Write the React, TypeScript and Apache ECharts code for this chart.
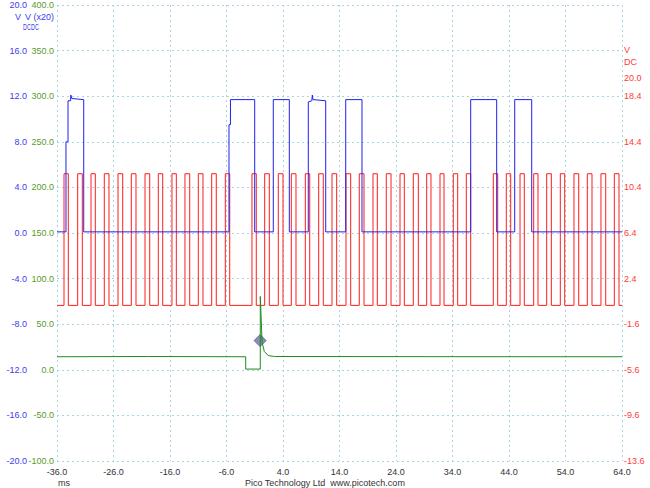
import React, { useEffect, useRef } from "react";
import * as echarts from "echarts";

// Time axis (ms) and tick labels
const timeMin = -36;
const timeMax = 64;
const timeStep = 10;

// Channel B (red, right axis, V DC): pulse rise / fall times in ms
const redRise = [-34.76, -32.34, -29.98, -27.63, -25.2, -22.85, -20.42, -18.07, -15.65, -13.35, -10.99, -8.62, -6.21,
  -1.49, 0.76, 3.17, 5.47, 7.95, 10.32, 12.67, 15.15, 17.5, 19.93, 22.28, 24.71, 27.06, 29.43, 31.79, 34.14, 36.44,
  41.22, 43.52, 45.95, 48.37, 50.67, 53.08, 55.5, 57.86, 60.28, 62.64];
const redFall = [-34.0, -31.52, -29.22, -26.8, -24.37, -22.02, -19.59, -17.29, -14.88, -12.51, -10.16, -7.81, -5.43,
  -0.73, 1.58, 4.0, 6.3, 8.73, 11.13, 13.5, 15.98, 18.34, 20.69, 23.12, 25.47, 27.95, 30.19, 32.5, 34.92, 37.22,
  42.0, 44.3, 46.71, 49.13, 51.49, 53.86, 56.34, 58.69, 61.12, 63.47];
const redHigh = 11.6;
const redLow = 0.05;

// Channel A (blue, left inner axis, V DC): [time ms, volts]
const bluePoints: [number, number][] = [
  [-36, 0.1], [-34.41, 0.1], [-34.41, 8.0], [-34.05, 8.0], [-34.05, 11.6], [-33.6, 11.6], [-33.55, 12.1], [-33.4, 11.8],
  [-31.27, 11.7], [-31.27, 0.1],
  [-5.56, 0.1], [-5.56, 9.5], [-5.3, 9.5], [-5.3, 11.7], [-1.01, 11.7], [-1.01, 0.1],
  [2.28, 0.1], [2.28, 11.7], [5.12, 11.7], [5.12, 0.1],
  [8.48, 0.1], [8.48, 11.5], [9.1, 11.6], [9.19, 12.1], [9.3, 11.7], [11.56, 11.6], [11.56, 0.1],
  [15.1, 0.1], [15.1, 11.7], [17.98, 11.7], [17.98, 0.1],
  [37.22, 0.1], [37.22, 11.7], [41.82, 11.7], [41.82, 0.1],
  [45.01, 0.1], [45.01, 11.7], [48.02, 11.7], [48.02, 0.1],
  [64, 0.1],
];

// Channel C (green, V x20 axis): [time ms, value]
const greenPoints: [number, number][] = [
  [-36, 14.3], [-20, 14.6], [-2.6, 14.3], [-2.6, 0.8], [-0.02, 0.8], [-0.02, 80.4], [0.1, 62], [0.3, 30],
  [0.7, 20], [1.4, 15.5], [2.5, 14.6], [30, 14.4], [64, 14.3],
];

// Trigger marker
const triggerPoint: [number, number] = [-0.05, 32];

// Axis ranges
const blueRange = { min: -20, max: 20, step: 4 };
const greenRange = { min: -100, max: 400, step: 50 };
const redRange = { min: -13.6, max: 26.4, step: 4 };

const BLUE = "#2020f0";
const RED = "#ff1c1c";
const GREEN = "#1f8a1f";
const BLUE_LBL = "#3c3cf0";
const GREEN_LBL = "#5a9a2e";
const RED_LBL = "#ff3a3a";
const GRID = "#a8d4e4";
const FONT = "Liberation Sans, Arial, sans-serif";

export default function App() {
  const ref = useRef<HTMLDivElement>(null);
  useEffect(() => {
    if (!ref.current) return;
    const chart = echarts.init(ref.current, undefined, { renderer: "svg" });
    const xOff = -timeMin;
    const rOff = -redRange.min;

    const redData: number[][] = [[timeMin + xOff, redLow + rOff]];
    for (let i = 0; i < redRise.length; i++) {
      redData.push([redRise[i] + xOff, redLow + rOff]);
      redData.push([redRise[i] + xOff, redHigh + rOff]);
      redData.push([redFall[i] + xOff, redHigh + rOff]);
      redData.push([redFall[i] + xOff, redLow + rOff]);
    }
    redData.push([timeMax + xOff, redLow + rOff]);

    const blueData = bluePoints.map(([t, v]) => [t + xOff, v]);
    const greenData = greenPoints.map(([t, v]) => [t + xOff, v]);

    const lbl = { fontFamily: FONT, fontSize: 9 };

    chart.setOption({
      animation: false,
      backgroundColor: "#ffffff",
      grid: { left: 57, right: 28, top: 5, bottom: 27, containLabel: false },
      xAxis: {
        type: "value",
        min: 0,
        max: timeMax - timeMin,
        interval: timeStep,
        axisLine: { show: false },
        axisTick: { show: false },
        splitLine: { show: true, lineStyle: { color: GRID, type: [2, 3], width: 1 } },
        axisLabel: {
          ...lbl,
          color: "#333333",
          margin: 6,
          formatter: (v: number) => (v - xOff).toFixed(1),
        },
      },
      yAxis: [
        {
          type: "value",
          position: "left",
          offset: 28,
          min: blueRange.min,
          max: blueRange.max,
          interval: blueRange.step,
          axisLine: { show: false },
          axisTick: { show: false },
          splitLine: { show: false },
          axisLabel: { ...lbl, color: BLUE_LBL, margin: 2, formatter: (v: number) => v.toFixed(1) },
        },
        {
          type: "value",
          position: "left",
          offset: 0,
          min: greenRange.min,
          max: greenRange.max,
          interval: greenRange.step,
          axisLine: { show: false },
          axisTick: { show: false },
          splitLine: { show: true, lineStyle: { color: GRID, type: [2, 3], width: 1 } },
          axisLabel: { ...lbl, color: GREEN_LBL, margin: 3, formatter: (v: number) => v.toFixed(1) },
        },
        {
          type: "value",
          position: "right",
          min: 0,
          max: redRange.max - redRange.min,
          interval: redRange.step,
          axisLine: { show: false },
          axisTick: { show: false },
          splitLine: { show: false },
          axisLabel: {
            ...lbl,
            color: RED_LBL,
            margin: 2,
            formatter: (v: number) => (v > 33 ? "" : (v - rOff).toFixed(1)),
          },
        },
      ],
      series: [
        {
          type: "line",
          xAxisIndex: 0,
          yAxisIndex: 2,
          data: redData,
          showSymbol: false,
          symbol: "none",
          silent: true,
          lineStyle: { color: RED, width: 1 },
        },
        {
          type: "line",
          xAxisIndex: 0,
          yAxisIndex: 0,
          data: blueData,
          showSymbol: false,
          symbol: "none",
          silent: true,
          lineStyle: { color: BLUE, width: 1 },
        },
        {
          type: "line",
          xAxisIndex: 0,
          yAxisIndex: 1,
          data: greenData,
          showSymbol: false,
          symbol: "none",
          silent: true,
          lineStyle: { color: GREEN, width: 1 },
        },
        {
          type: "scatter",
          xAxisIndex: 0,
          yAxisIndex: 1,
          data: [[triggerPoint[0] + xOff, triggerPoint[1]]],
          symbol: "diamond",
          symbolSize: 12,
          silent: true,
          itemStyle: { color: "#737390", borderColor: "#4848d8", borderWidth: 1 },
        },
      ],
      graphic: [
        { type: "text", left: 15, top: 12, style: { text: "V", fill: BLUE_LBL, font: "9px " + FONT } },
        { type: "text", left: 25, top: 12, style: { text: "V (x20)", fill: BLUE_LBL, font: "9px " + FONT } },
        { type: "text", x: 23, y: 22, scaleX: 0.6, style: { text: "DC", fill: BLUE_LBL, font: "9px " + FONT } },
        { type: "text", x: 31, y: 22, scaleX: 0.6, style: { text: "DC", fill: BLUE_LBL, font: "9px " + FONT } },
        { type: "text", left: 624, top: 45, style: { text: "V", fill: RED_LBL, font: "9px " + FONT } },
        { type: "text", left: 624, top: 57, style: { text: "DC", fill: RED_LBL, font: "9px " + FONT } },
        { type: "text", left: 624, top: 73, style: { text: "20.0", fill: RED_LBL, font: "9px " + FONT } },
        { type: "text", left: 58, top: 478, style: { text: "ms", fill: "#333333", font: "9px " + FONT } },
        {
          type: "text",
          left: "center",
          top: 478,
          style: { text: "Pico Technology Ltd  www.picotech.com", fill: "#333333", font: "9px " + FONT },
        },
      ],
    });
    return () => chart.dispose();
  }, []);
  return (
    <div
      ref={ref}
      style={{ position: "fixed", left: 0, top: 0, width: 650, height: 488, background: "#ffffff" }}
    />
  );
}
